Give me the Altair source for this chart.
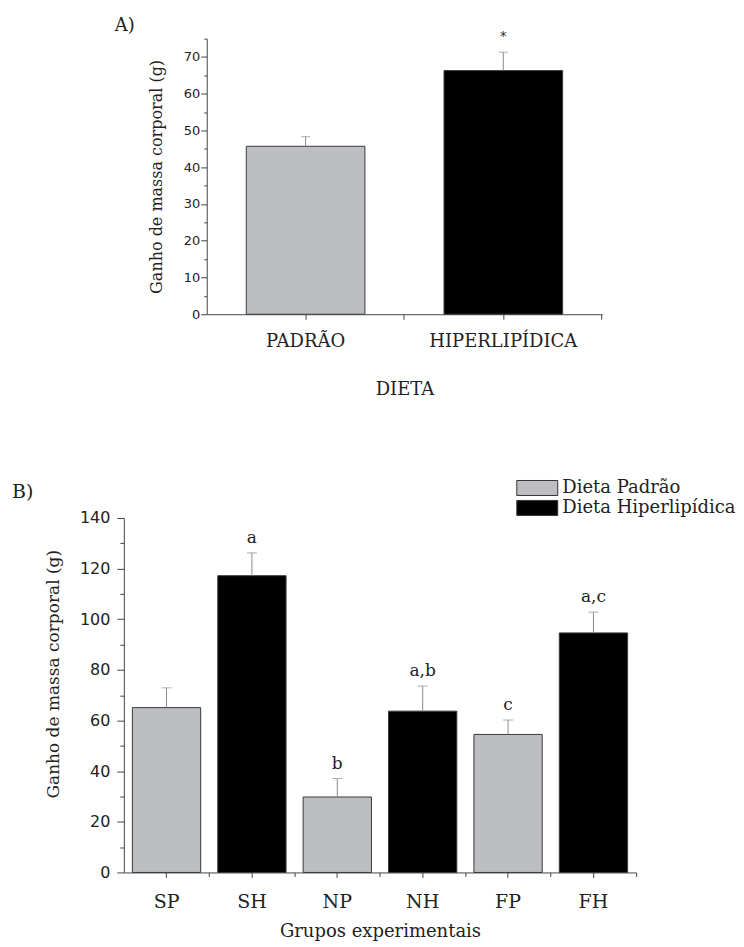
import altair as alt
import pandas as pd

# ---------- Panel A data ----------
dietas_a = ["PADRÃO", "HIPERLIPÍDICA"]
ganho_a = [45.7, 66.3]
erro_a = [2.6, 5.0]
sig_a = ["", "*"]

# ---------- Panel B data ----------
grupos_b = ["SP", "SH", "NP", "NH", "FP", "FH"]
dieta_b = ["Dieta Padrão", "Dieta Hiperlipídica", "Dieta Padrão",
           "Dieta Hiperlipídica", "Dieta Padrão", "Dieta Hiperlipídica"]
ganho_b = [65.1, 117.2, 29.8, 63.7, 54.5, 94.6]
erro_b = [7.8, 9.0, 7.3, 9.9, 5.7, 8.2]
letras_b = ["", "a", "b", "a,b", "c", "a,c"]
legenda_b = ["Dieta Padrão", "Dieta Hiperlipídica"]

GRAY = "#bdbec2"
BLACK = "#000000"
ERR = "#8c8c8c"
SERIF = "DejaVu Serif"
SANS = "DejaVu Sans"

df_a = pd.DataFrame({"dietaA": dietas_a, "ganho": ganho_a, "erro": erro_a, "sig": sig_a})
df_a["sup"] = df_a["ganho"] + df_a["erro"]

df_b = pd.DataFrame({"grupo": grupos_b, "dieta": dieta_b, "ganho": ganho_b,
                     "erro": erro_b, "letra": letras_b})
df_b["sup"] = df_b["ganho"] + df_b["erro"]

# ---------- Panel A ----------
xs_a = alt.Scale(paddingInner=0.4, paddingOuter=0.2)
ax_a = alt.Axis(title="DIETA", labelAngle=0, labelFont=SERIF, labelFontSize=18,
                titleFont=SERIF, titleFontSize=18, titleFontWeight="normal",
                tickSize=5, labelPadding=13, titlePadding=30, orient="bottom")
ax_a2 = alt.Axis(title=None, labels=False, domain=False, tickSize=5,
                 bandPosition=1.3333, orient="bottom")
ys_a = alt.Scale(domain=[0, 75], nice=False)
ay_a = alt.Axis(title="Ganho de massa corporal (g)", values=list(range(0, 76, 5)),
                labelExpr="datum.value % 10 === 0 ? datum.label : ''",
                tickSize={"condition": {"test": "datum.value % 10 === 0", "value": 6}, "value": 3},
                labelFont=SANS, labelFontSize=13, labelPadding=1,
                titleFont=SERIF, titleFontSize=16, titleFontWeight="normal", titlePadding=19)

base_a = alt.Chart(df_a)
bars_a = base_a.mark_bar(stroke="#3a3a3a", strokeWidth=1).encode(
    x=alt.X("dietaA:N", sort=dietas_a, scale=xs_a, axis=ax_a),
    y=alt.Y("ganho:Q", scale=ys_a, axis=ay_a),
    color=alt.Color("dietaA:N", scale=alt.Scale(domain=dietas_a, range=[GRAY, BLACK]), legend=None),
)
err_a = base_a.mark_rule(color=ERR, strokeWidth=1).encode(
    x=alt.X("dietaA:N", sort=dietas_a, scale=xs_a, axis=ax_a2),
    y=alt.Y("ganho:Q", scale=ys_a, axis=ay_a),
    y2="sup:Q",
)
cap_a = base_a.mark_tick(color=ERR, size=9, thickness=1).encode(
    x=alt.X("dietaA:N", sort=dietas_a, scale=xs_a, axis=None),
    y=alt.Y("sup:Q", scale=ys_a, axis=ay_a),
)
star_a = base_a.mark_text(font=SERIF, fontSize=12, baseline="alphabetic", dy=-11, color="#222").encode(
    x=alt.X("dietaA:N", sort=dietas_a, scale=xs_a, axis=None),
    y=alt.Y("sup:Q", scale=ys_a, axis=ay_a),
    text="sig:N",
)
chart_a = alt.layer(bars_a, err_a, cap_a, star_a).resolve_axis(x="independent").properties(
    width=396, height=276,
    title=alt.TitleParams("A)", anchor="start", frame="group", dx=-92, font=SERIF,
                          fontSize=18, fontWeight="normal", color="#222", offset=-4),
)

spacer = alt.Chart(pd.DataFrame({"v": [0]})).mark_point(opacity=0).encode(
    x=alt.X("v:Q", axis=None), y=alt.Y("v:Q", axis=None)
).properties(width=83, height=276)

top = alt.hconcat(spacer, chart_a, spacing=0, bounds="flush")

# ---------- Panel B ----------
xs_b = alt.Scale(paddingInner=0.2, paddingOuter=0.1)
ax_b = alt.Axis(title="Grupos experimentais", labelAngle=0, labelFont=SERIF, labelFontSize=19,
                titleFont=SERIF, titleFontSize=18, titleFontWeight="normal",
                tickSize=5, labelPadding=15, titlePadding=11, orient="bottom")
ax_b2 = alt.Axis(title=None, labels=False, domain=False, tickSize=4,
                 bandPosition=1.125, orient="bottom")
ys_b = alt.Scale(domain=[0, 140], nice=False)
ay_b = alt.Axis(title="Ganho de massa corporal (g)", values=list(range(0, 141, 10)),
                labelExpr="datum.value % 20 === 0 ? datum.label : ''",
                tickSize={"condition": {"test": "datum.value % 20 === 0", "value": 7}, "value": 4},
                labelFont=SANS, labelFontSize=16, labelPadding=7,
                titleFont=SERIF, titleFontSize=17, titleFontWeight="normal", titlePadding=17,
                titleY=156)

path = "M-2.5625,-0.9375H2.5625V0.9375H-2.5625Z"
base_b = alt.Chart(df_b)
bars_b = base_b.mark_bar(stroke="#3a3a3a", strokeWidth=1).encode(
    x=alt.X("grupo:N", sort=grupos_b, scale=xs_b, axis=ax_b),
    y=alt.Y("ganho:Q", scale=ys_b, axis=ay_b),
    color=alt.Color("dieta:N", scale=alt.Scale(domain=legenda_b, range=[GRAY, BLACK]),
                    legend=alt.Legend(title=None, orient="none", legendX=392, legendY=-39,
                                      symbolType=path, symbolSize=256,
                                      symbolStrokeColor="#333", symbolStrokeWidth=1,
                                      symbolOffset=13, labelOffset=16,
                                      labelFont=SERIF, labelFontSize=18, labelColor="#222",
                                      rowPadding=0, padding=0, labelLimit=400)),
)
err_b = base_b.mark_rule(color=ERR, strokeWidth=1).encode(
    x=alt.X("grupo:N", sort=grupos_b, scale=xs_b, axis=ax_b2),
    y=alt.Y("ganho:Q", scale=ys_b, axis=ay_b),
    y2="sup:Q",
)
cap_b = base_b.mark_tick(color=ERR, size=10, thickness=1).encode(
    x=alt.X("grupo:N", sort=grupos_b, scale=xs_b, axis=None),
    y=alt.Y("sup:Q", scale=ys_b, axis=ay_b),
)
txt_b = base_b.mark_text(font=SERIF, fontSize=17, baseline="alphabetic", dy=-10, color="#222").encode(
    x=alt.X("grupo:N", sort=grupos_b, scale=xs_b, axis=None),
    y=alt.Y("sup:Q", scale=ys_b, axis=ay_b),
    text="letra:N",
)
chart_b = alt.layer(bars_b, err_b, cap_b, txt_b).resolve_axis(x="independent").properties(
    width=513, height=355,
    title=alt.TitleParams("B)", anchor="start", frame="group", dx=-112, dy=29, font=SERIF,
                          fontSize=19, fontWeight="normal", color="#222", offset=6),
)

chart = alt.vconcat(top, chart_b, spacing=480, bounds="flush").resolve_scale(
    color="independent"
).resolve_legend(color="independent").properties(
    padding={"left": 4, "top": 8, "right": 0, "bottom": 0}
).configure_view(strokeWidth=0).configure_axis(
    domainColor="#444", tickColor="#444", labelColor="#222", titleColor="#222", grid=False
)

chart.save("out.html", embed_options={"renderer": "svg", "actions": False})
